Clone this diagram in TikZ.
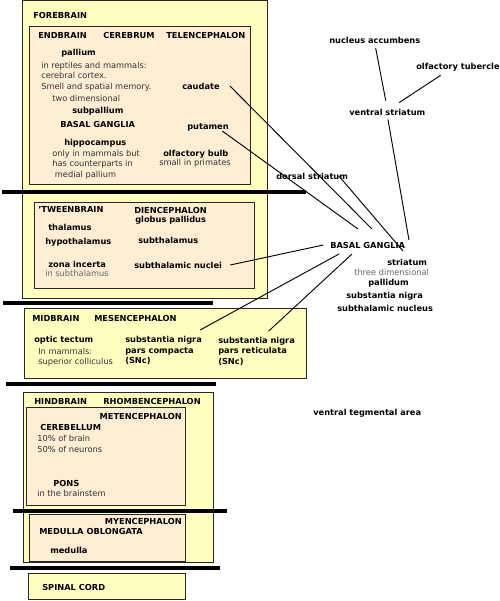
\documentclass[tikz,border=0pt]{standalone}
\usepackage{fontspec}
\setmainfont{DejaVu Sans}
\definecolor{outerbox}{RGB}{255,255,192}
\definecolor{innerbox}{RGB}{255,238,212}
\tikzset{
  region/.style={draw=black!85, fill=outerbox, line width=0.75pt},
  subregion/.style={draw=black!85, fill=innerbox, line width=0.75pt},
  divider/.style={line width=3pt},
  part/.style={font=\fontsize{6.2}{7.9}\selectfont\bfseries, anchor=west, inner sep=0pt, align=left},
  note/.style={font=\fontsize{6.2}{7.9}\selectfont, anchor=west, inner sep=0pt, align=left, text=black!80},
  faint/.style={note, text=black!60},
  link/.style={line width=0.7pt},
}
\begin{document}
\begin{tikzpicture}[x=0.75pt,y=-0.75pt]
  \useasboundingbox (0,0) rectangle (500,601);
  % boxes
  \draw[region] (22,0.5) rectangle (267,298);
  \draw[subregion] (29,26) rectangle (250,184);
  \draw[subregion] (34,202) rectangle (254,288);
  \draw[region] (24,308) rectangle (306,378);
  \draw[region] (23,392) rectangle (213,562);
  \draw[subregion] (26,407) rectangle (185,505);
  \draw[subregion] (29,514) rectangle (185,561);
  \draw[region] (28,573) rectangle (185,599);
  \foreach \y/\a/\b in {192/2/306, 303/3/213, 384/6/216, 511/13/227, 568/10/220}
    \draw[divider] (\a,\y) -- (\b,\y);

  % forebrain
  \node[part] (forebrain) at (33,15) {FOREBRAIN};
  \node[part] (endbrain) at (38,35) {ENDBRAIN};
  \node[part] (cerebrum) at (103,35) {CEREBRUM};
  \node[part] (telen) at (166,35) {TELENCEPHALON};
  \node[part] (pallium) at (61,53) {pallium};
  \node[note] (pallium-note) at (41,76.5) {in reptiles and mammals:\\cerebral cortex.\\Smell and spatial memory.};
  \node[note] (pallium-dim) at (52,98) {two dimensional};
  \node[part] (subpallium) at (72,111) {subpallium};
  \node[part] (fb-bg) at (60,124) {BASAL GANGLIA};
  \node[part] (hippo) at (64,143) {hippocampus};
  \node[note] (hippo-note) at (52,164.5) {only in mammals but\\has counterparts in\\\hspace{2pt}medial pallium};
  \node[part] (caudate) at (182,86) {caudate};
  \node[part] (putamen) at (187,127) {putamen};
  \node[part] (olfbulb) at (163,154) {olfactory bulb};
  \node[note] (olfbulb-note) at (159,163) {small in primates};

  % 'tweenbrain
  \node[part] (tweenbrain) at (38,209) {'TWEENBRAIN};
  \node[part] (dien) at (134,210) {DIENCEPHALON};
  \node[part] (gp) at (135,220) {globus pallidus};
  \node[part] (thalamus) at (48,227) {thalamus};
  \node[part] (hypothalamus) at (45,242) {hypothalamus};
  \node[part] (subthalamus) at (138,240) {subthalamus};
  \node[part] (zona) at (48,264) {zona incerta};
  \node[faint] (zona-note) at (45,273) {in subthalamus};
  \node[part] (stn) at (134,265) {subthalamic nuclei};

  % midbrain
  \node[part] (midbrain) at (32,318) {MIDBRAIN};
  \node[part] (mesen) at (94,318) {MESENCEPHALON};
  \node[part] (tectum) at (34,340) {optic tectum};
  \node[note] (tectum-note) at (38,357) {In mammals:\\superior colliculus};
  \node[part] (snc) at (125,350.5) {substantia nigra\\pars compacta\\(SNc)};
  \node[part] (snr) at (218,351) {substantia nigra\\pars reticulata\\(SNc)};

  % hindbrain
  \node[part] (hindbrain) at (34,401) {HINDBRAIN};
  \node[part] (rhomben) at (103,401) {RHOMBENCEPHALON};
  \node[part, anchor=east] (meten) at (182,416) {METENCEPHALON};
  \node[part] (cerebellum) at (40,427) {CEREBELLUM};
  \node[note] (cerebellum-note) at (37,444) {10\% of brain\\50\% of neurons};
  \node[part] (pons) at (53,483) {PONS};
  \node[note] (pons-note) at (37,493) {in the brainstem};
  \node[part, anchor=east] (myen) at (182,521) {MYENCEPHALON};
  \node[part] (medob) at (39,531) {MEDULLA OBLONGATA};
  \node[part] (medulla) at (50,550) {medulla};
  \node[part] (spinal) at (42,587) {SPINAL CORD};

  % basal ganglia, right side
  \node[part] (accumbens) at (329,40) {nucleus accumbens};
  \node[part] (tubercle) at (416,67) {olfactory tubercle};
  \node[part] (ventral) at (349,112) {ventral striatum};
  \node[part] (dorsal) at (276,176) {dorsal striatum};
  \node[part] (bg) at (330,245) {BASAL GANGLIA};
  \node[part] (striatum) at (387,262) {striatum};
  \node[faint] (striatum-dim) at (354,272) {three dimensional};
  \node[part] (pallidum) at (368,283) {pallidum};
  \node[part] (bg-sn) at (346,296) {substantia nigra};
  \node[part] (bg-stn) at (337,308) {subthalamic nucleus};
  \node[part] (vta) at (313,413) {ventral tegmental area};

  \coordinate (bg-caudate) at (372,229);
  \coordinate (bg-putamen) at (358,229);
  \coordinate (bg-dorsal) at (403,251);
  \coordinate (bg-ventral) at (409,240);
  \coordinate (bg-snc) at (339,254);
  \coordinate (bg-snr) at (352,254);

  % connectors
  \draw[link] ([xshift=7.5pt]caudate.east) -- (bg-caudate);
  \draw[link] ([xshift=-5pt]putamen.south east) -- (bg-putamen);
  \draw[link] ([xshift=-7pt]dorsal.east) -- (bg-dorsal);
  \draw[link, shorten <=3pt] (ventral.south) -- (bg-ventral);
  \draw[link, shorten <=3.5pt, shorten >=6pt] (accumbens.south) -- (ventral.north);
  \draw[link] ([xshift=-13pt,yshift=-3pt]tubercle.south) -- ([xshift=9pt,yshift=4.5pt]ventral.north);
  \draw[link] ([xshift=6pt]stn.east) -- ([xshift=-5pt]bg.west);
  \draw[link] ([xshift=-1.5pt,yshift=4.5pt]snc.north east) -- (bg-snc);
  \draw[link] ([xshift=9pt,yshift=4pt]snr.north) -- (bg-snr);
\end{tikzpicture}
\end{document}
